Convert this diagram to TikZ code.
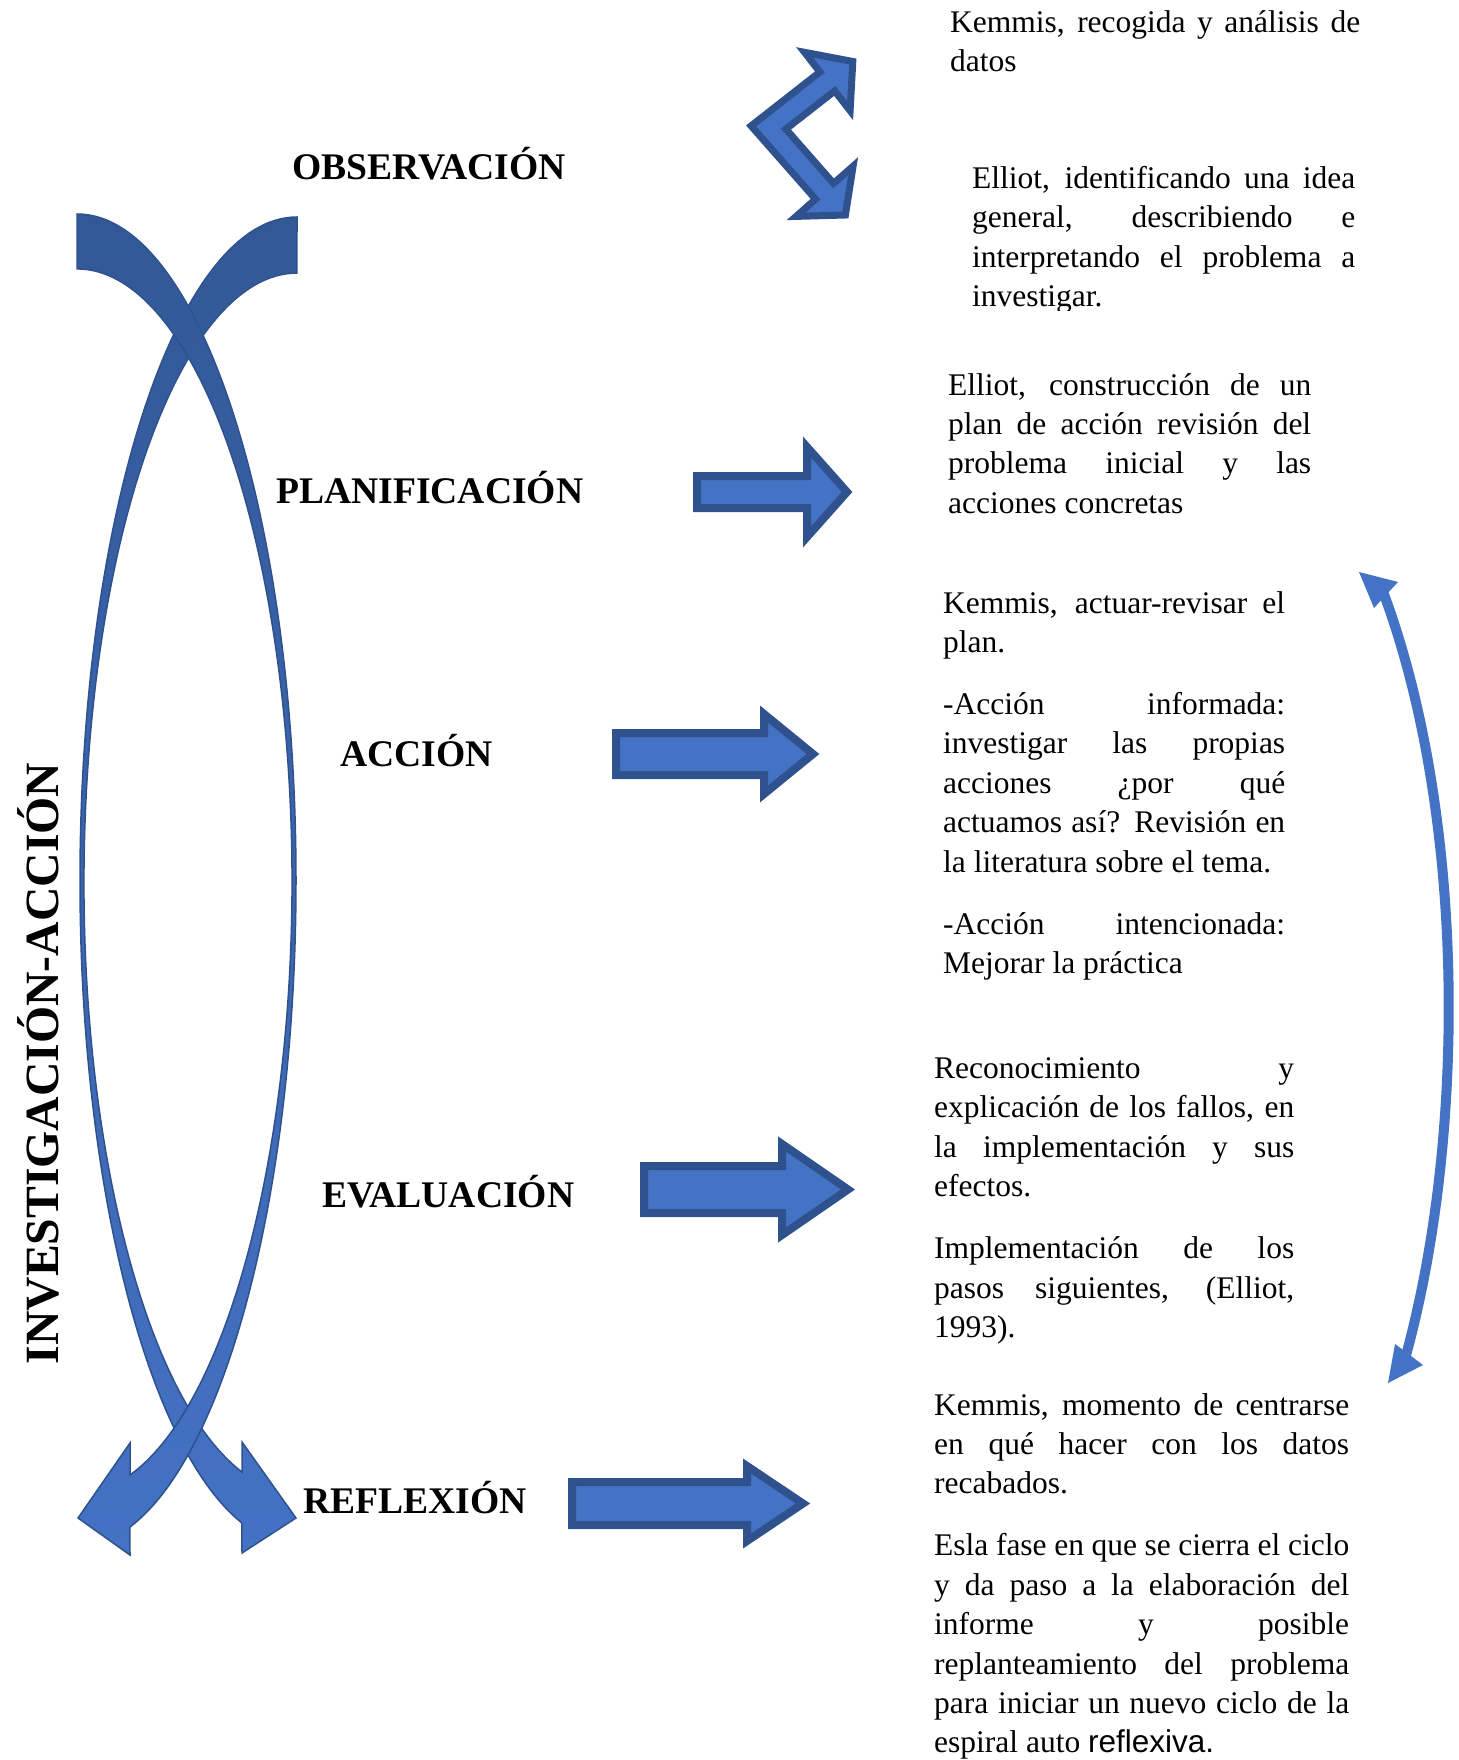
\documentclass[tikz,border=0pt]{standalone}
\usepackage{fontspec}
\setmainfont{Liberation Serif}
\setsansfont{Liberation Sans}
\usetikzlibrary{arrows.meta}

\definecolor{fillblue}{RGB}{68,114,196}
\definecolor{edgeblue}{RGB}{47,82,143}
\definecolor{topblue}{RGB}{50,88,150}

\tolerance=10000
\hyphenpenalty=10000
\hbadness=10000
\hfuzz=20pt

% paragraph set-up used inside the note boxes
\newcommand\notesetup{\parskip=22.6pt\relax\parindent=0pt\relax}

\begin{document}
\begin{tikzpicture}[x=1pt,y=-1pt,
  blockarrow/.style={draw=edgeblue, fill=fillblue, line width=8pt, line join=miter},
  band/.style={draw=edgeblue, line width=1.5pt, top color=topblue, bottom color=fillblue},
  phase/.style={font=\fontsize{37.6}{44}\selectfont\bfseries, inner sep=0pt, anchor=base west},
  notes/.style={font=\fontsize{31.5}{39.4}\selectfont, inner sep=0pt, anchor=base west, align=justify},
]
\useasboundingbox (0,0) rectangle (1458,1760);

% ---- the two crossing curved arrows of the cycle ----
% band bulging to the left, ending in the right-hand arrowhead
\path[band] (297,217)
  arc[start angle=-90, end angle=-255.3, x radius=217, y radius=663.9]
  -- (242,1553) -- (296,1518) -- (242,1442) -- (242,1472)
  arc[start angle=-255.04, end angle=-90, x radius=213, y radius=609.8]
  -- cycle;
% band bulging to the right, ending in the left-hand arrowhead
\path[band] (77,214)
  arc[start angle=-90, end angle=76.0, x radius=219, y radius=666.4]
  -- (130,1555) -- (78,1518) -- (130,1443) -- (130,1475)
  arc[start angle=75.73, end angle=-90, x radius=215, y radius=612.5]
  -- cycle;

% ---- vertical title ----
\node[font=\fontsize{47.7}{50}\selectfont\bfseries, rotate=90, anchor=base, inner sep=0pt]
  (title) at (58,1063.5) {INVESTIGACIÓN-ACCIÓN};

% ---- phase labels ----
\node[phase] (obs)  at (292,180)  {OBSERVACIÓN};
\node[phase] (plan) at (276,503)  {PLANIFICACIÓN};
\node[phase] (acc)  at (340,766)  {ACCIÓN};
\node[phase] (eval) at (322,1207) {EVALUACIÓN};
\node[phase] (refl) at (303,1513) {REFLEXIÓN};

% ---- bent double arrow next to the observation phase ----
\draw[blockarrow, line width=7pt]
  (751.1,125.9) -- (819.9,72.0) -- (804.5,52.3) -- (852.8,61.5) -- (850.1,110.7)
  -- (834.7,91.0) -- (785.9,129.1) -- (833.6,183.4) -- (853.1,166.2)
  -- (845.4,215.0) -- (796.1,216.4) -- (815.6,199.2) -- cycle;

% ---- block arrows ----
\draw[blockarrow] (697,476) -- (807,476) -- (807,447) -- (847,492)
  -- (807,537) -- (807,508) -- (697,508) -- cycle;
\draw[blockarrow] (616,733) -- (764,733) -- (764,714) -- (813,754)
  -- (764,794) -- (764,775) -- (616,775) -- cycle;
\draw[blockarrow] (644,1166) -- (782,1166) -- (782,1144) -- (848,1189.5)
  -- (782,1235) -- (782,1213) -- (644,1213) -- cycle;
\draw[blockarrow] (572,1482) -- (747,1482) -- (747,1466) -- (803,1503.5)
  -- (747,1541) -- (747,1525) -- (572,1525) -- cycle;

% ---- curved double arrow on the right ----
\coordinate (loopstart) at (1382,589);
\coordinate (loopend) at (1403,1366);
\draw[fillblue, line width=10pt] (loopstart) .. controls (1466,811) and (1468,1139) .. (loopend);
\fill[fillblue] (1359,572) -- (1398,582) -- (1374,608) -- cycle;
\fill[fillblue] (1388,1383) -- (1395,1344) -- (1423,1365) -- cycle;

% ---- notes ----
\node[notes, text width=410pt] (kemmisdatos) at (950,32.5)
  {\notesetup Kemmis, recogida y análisis de\linebreak datos};

\begin{scope}
  \clip (960,140) rectangle (1380,311);
  \node[notes, text width=383pt] (elliotidea) at (972,188.5)
    {\notesetup Elliot, identificando una idea\linebreak general, describiendo e\linebreak
     interpretando el problema a\linebreak investigar.};
\end{scope}

\node[notes, text width=363pt] (elliotplan) at (948,395)
  {\notesetup Elliot, construcción de un\linebreak plan de acción revisión del\linebreak
   problema inicial y las\linebreak acciones concretas};

\node[notes, text width=342pt] (kemmisactuar) at (943,613)
  {\notesetup Kemmis, actuar-revisar el\linebreak plan.\par
   -Acción informada:\linebreak investigar las propias\linebreak acciones ¿por qué\linebreak
   actuamos así? Revisión en\linebreak la literatura sobre el tema.\par
   -Acción intencionada:\linebreak Mejorar la práctica};

\node[notes, text width=360pt] (fallos) at (934,1078.5)
  {\notesetup Reconocimiento y\linebreak explicación de los fallos, en\linebreak
   la implementación y sus\linebreak efectos.\par
   Implementación de los\linebreak pasos siguientes, (Elliot,\linebreak 1993).};

\node[notes, text width=415pt] (kemmisdatos2) at (934,1415)
  {\notesetup Kemmis, momento de centrarse\linebreak en qué hacer con los datos\linebreak recabados.\par
   Esla fase en que se cierra el ciclo\linebreak y da paso a la elaboración del\linebreak
   informe y posible\linebreak replanteamiento del problema\linebreak
   para iniciar un nuevo ciclo de la\linebreak espiral auto {\sffamily reflexiva.}};
\end{tikzpicture}
\end{document}
